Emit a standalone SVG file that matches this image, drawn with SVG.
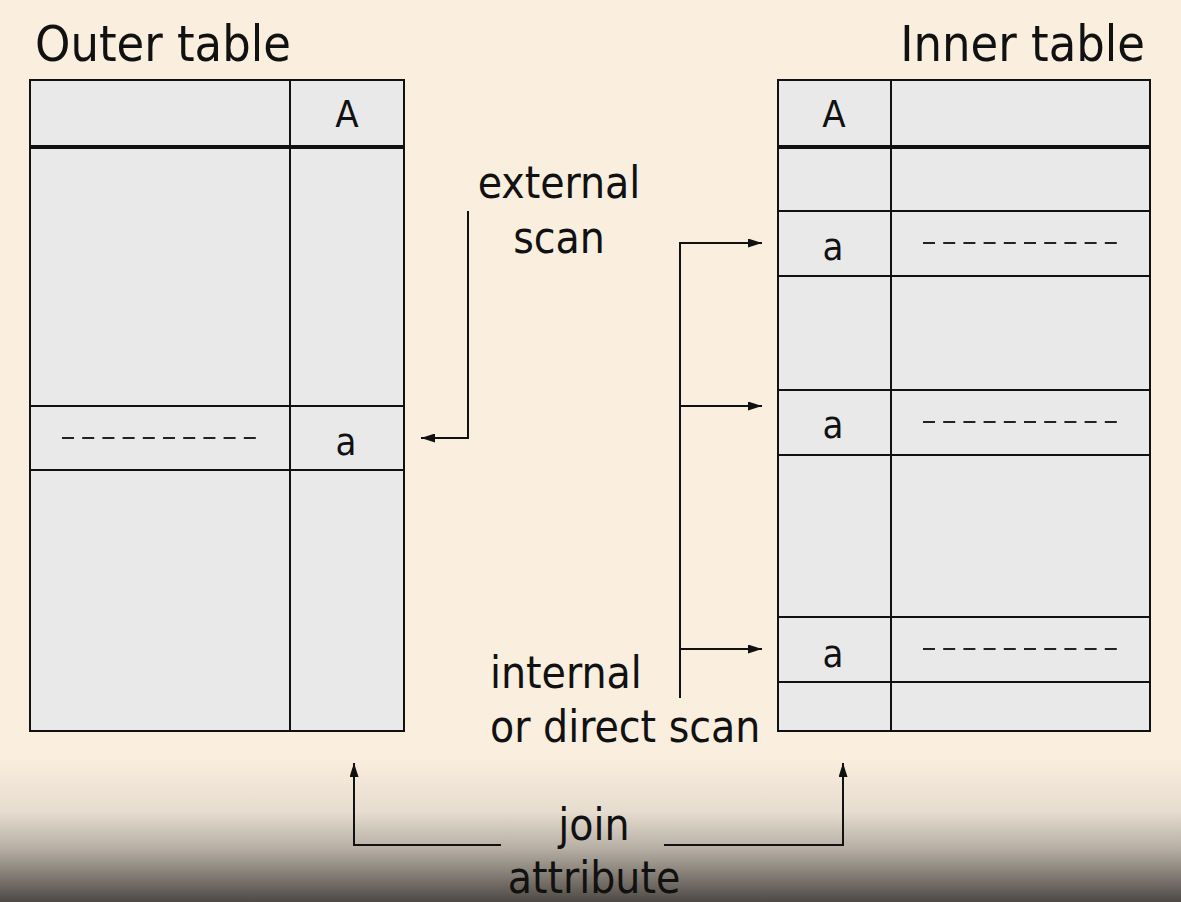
<svg xmlns="http://www.w3.org/2000/svg" width="1181" height="902" viewBox="0 0 1181 902">
<style>
.t{font-family:"DejaVu Sans Condensed","DejaVu Sans",sans-serif;font-stretch:condensed;fill:#111}
.title{font-size:50px}
.lbl{font-size:44px}
.cell{font-size:38px}
.box{fill:#e9e9e9;stroke:#111;stroke-width:2}
.ln{stroke:#111;stroke-width:2;fill:none}
.thick{stroke:#111;stroke-width:4}
.dash{stroke:#222;stroke-width:2.2;stroke-dasharray:12 8.2}
.arr{stroke:#111;stroke-width:2;fill:none;marker-end:url(#ah)}
</style>
<defs>
<linearGradient id="bg" x1="0" y1="0" x2="0" y2="1">
<stop offset="0" stop-color="#faeede"/>
<stop offset="0.84" stop-color="#faeede"/>
<stop offset="0.9" stop-color="#e6dccf"/>
<stop offset="0.94" stop-color="#b8b0a5"/>
<stop offset="0.97" stop-color="#847d75"/>
<stop offset="1" stop-color="#4d4944"/>
</linearGradient>
<marker id="ah" viewBox="0 0 14 9" refX="14" refY="4.5" markerWidth="14" markerHeight="9" markerUnits="userSpaceOnUse" orient="auto">
<path d="M0,0 L14,4.5 L0,9 Z" fill="#111"/>
</marker>
</defs>
<rect width="1181" height="902" fill="url(#bg)"/>
<g id="outer-table">
<text class="t title" x="35" y="61">Outer table</text>
<rect class="box" x="30" y="80" width="374" height="651"/>
<line class="ln" x1="290" y1="80" x2="290" y2="731"/>
<line class="thick" x1="30" y1="147" x2="404" y2="147"/>
<line class="ln" x1="30" y1="406" x2="404" y2="406"/>
<line class="ln" x1="30" y1="470" x2="404" y2="470"/>
<text class="t cell" x="347" y="127" text-anchor="middle">A</text>
<text class="t cell" x="346" y="455" text-anchor="middle">a</text>
<line class="dash" x1="62" y1="438" x2="256" y2="438"/>
</g>
<g id="inner-table">
<text class="t title" x="1145" y="61" text-anchor="end">Inner table</text>
<rect class="box" x="778" y="80" width="372" height="651"/>
<line class="ln" x1="891" y1="80" x2="891" y2="731"/>
<line class="thick" x1="778" y1="147" x2="1150" y2="147"/>
<line class="ln" x1="778" y1="211" x2="1150" y2="211"/>
<line class="ln" x1="778" y1="276" x2="1150" y2="276"/>
<line class="ln" x1="778" y1="390" x2="1150" y2="390"/>
<line class="ln" x1="778" y1="455" x2="1150" y2="455"/>
<line class="ln" x1="778" y1="617" x2="1150" y2="617"/>
<line class="ln" x1="778" y1="682" x2="1150" y2="682"/>
<text class="t cell" x="834" y="127" text-anchor="middle">A</text>
<text class="t cell" x="833" y="260" text-anchor="middle">a</text>
<text class="t cell" x="833" y="438" text-anchor="middle">a</text>
<text class="t cell" x="833" y="667" text-anchor="middle">a</text>
<line class="dash" x1="923" y1="243" x2="1117" y2="243"/>
<line class="dash" x1="923" y1="422" x2="1117" y2="422"/>
<line class="dash" x1="923" y1="649" x2="1117" y2="649"/>
</g>
<g id="labels">
<text class="t lbl" x="559" y="198" text-anchor="middle">external</text>
<text class="t lbl" x="559" y="253" text-anchor="middle">scan</text>
<text class="t lbl" x="490" y="688">internal</text>
<text class="t lbl" x="490" y="742">or direct scan</text>
<text class="t lbl" x="594" y="840" text-anchor="middle">join</text>
<text class="t lbl" x="594" y="893" text-anchor="middle">attribute</text>
</g>
<g id="connectors">
<path class="arr" d="M468,211 V438 H421"/>
<line class="ln" x1="680" y1="243" x2="680" y2="698"/>
<path class="arr" d="M679,243 H762"/>
<path class="arr" d="M679,406 H762"/>
<path class="arr" d="M679,649 H762"/>
<path class="arr" d="M501,845 H354 V763"/>
<path class="arr" d="M664,845 H843 V763"/>
</g>
</svg>
